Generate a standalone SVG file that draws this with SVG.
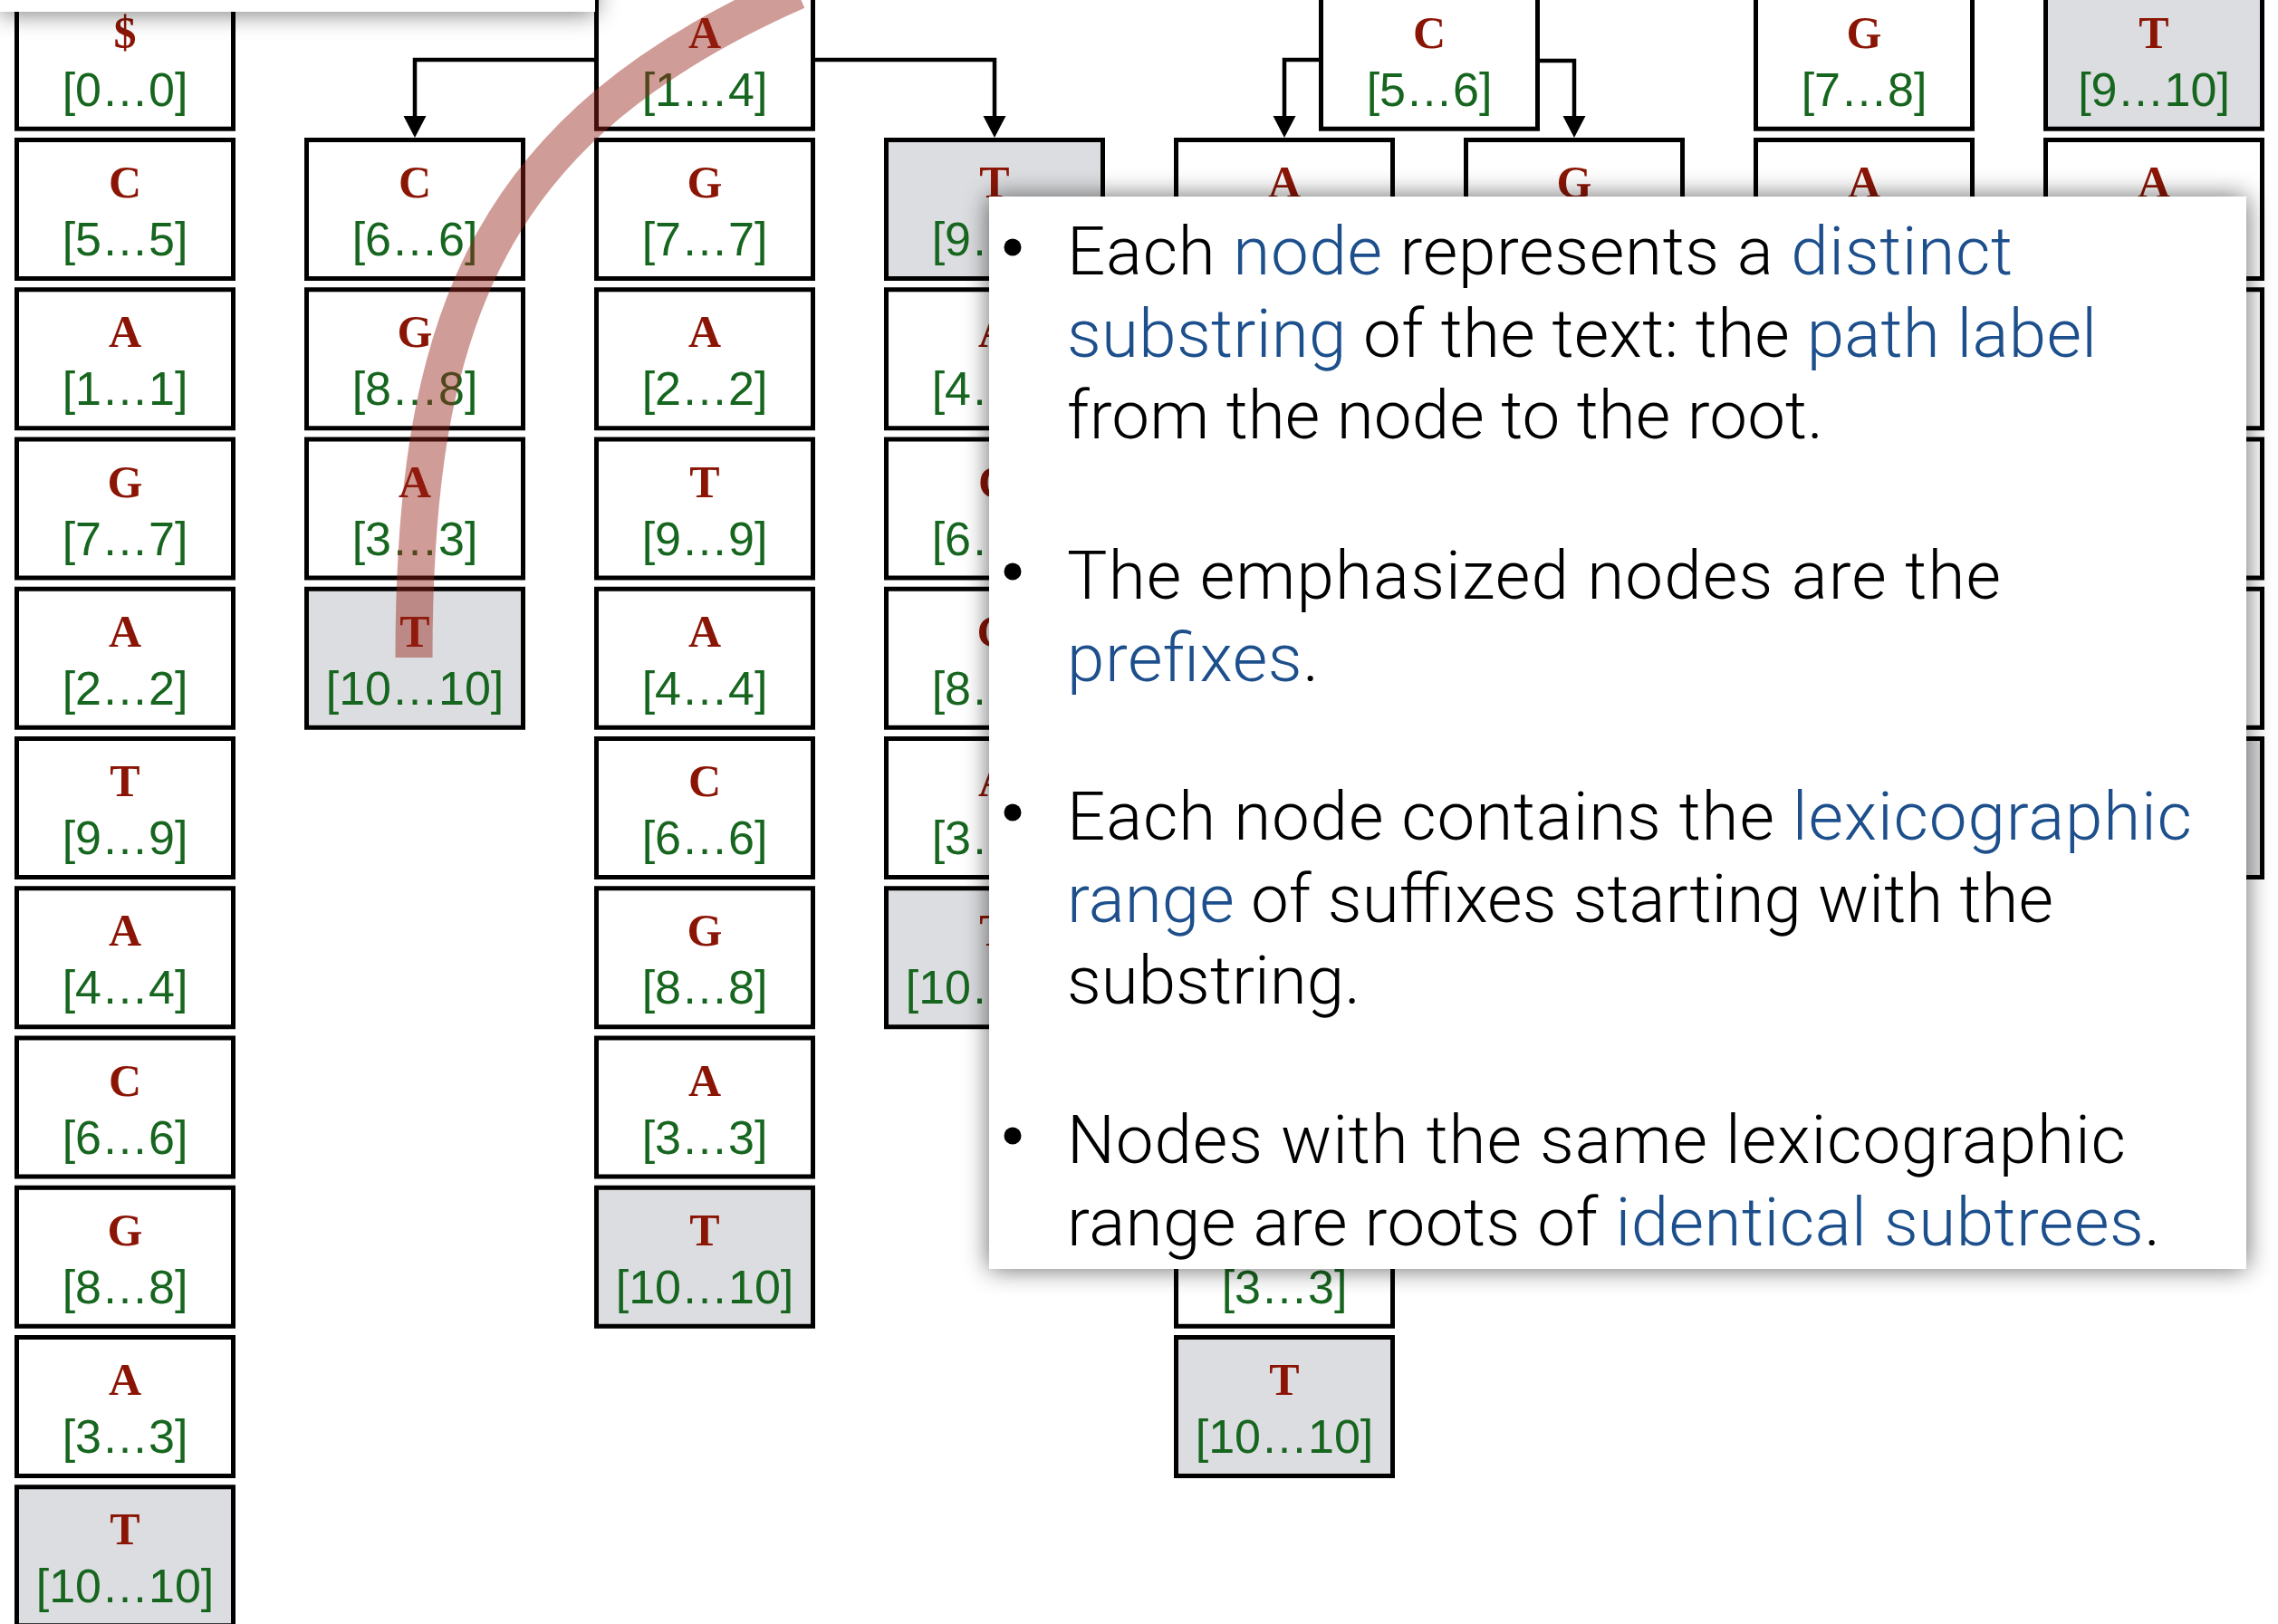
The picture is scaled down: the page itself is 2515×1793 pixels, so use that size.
<svg xmlns="http://www.w3.org/2000/svg" width="2515" height="1793" viewBox="0 0 2515 1793">
  <defs>
    <style>
      .box { fill: #ffffff; stroke: #000000; stroke-width: 5; }
      .pre { fill: #dcdde0; }
      .ch { font-family: "Liberation Serif", "DejaVu Serif", serif; font-weight: bold; font-size: 50px; fill: #8b1505; text-anchor: middle; }
      .rg { font-family: "Liberation Sans", Arial, sans-serif; font-size: 52px; fill: #17661f; text-anchor: middle; }
      .edge { fill: none; stroke: #000000; stroke-width: 4.5; marker-end: url(#arrow); }
      .arc { fill: none; stroke: rgb(150,35,25); stroke-opacity: 0.45; stroke-width: 41; }
      .panel { fill: #ffffff; filter: url(#shadow); }
      .tx { font-family: Roboto, "Liberation Sans", sans-serif; font-weight: 300; font-size: 74.5px; fill: #000000; }
      .hl { fill: #1c4f8c; }
      .dot { fill: #000000; }
    </style>
    <marker id="arrow" markerUnits="userSpaceOnUse" markerWidth="26" markerHeight="26" refX="12" refY="12.5" orient="auto">
      <path d="M0,0 L24,12.5 L0,25 Z" fill="#000000"/>
    </marker>
    <filter id="shadow" filterUnits="userSpaceOnUse" x="-100" y="-100" width="2715" height="1993">
      <feGaussianBlur in="SourceAlpha" stdDeviation="14"/>
      <feComponentTransfer><feFuncA type="linear" slope="0.6"/></feComponentTransfer>
      <feMerge><feMergeNode/><feMergeNode in="SourceGraphic"/></feMerge>
    </filter>
  </defs>

  <rect x="0" y="0" width="2515" height="1793" fill="#ffffff"/>

  <!-- column 1: $ chain -->
  <g id="c1r0" transform="translate(18.5,-10.75)"><rect class="box" width="239" height="153"/><text class="ch" x="119.5" y="63.5">$</text><text class="rg" x="119.5" y="127.5">[0…0]</text></g>
  <g id="c1r1" transform="translate(18.5,154.5)"><rect class="box" width="239" height="153"/><text class="ch" x="119.5" y="63.5">C</text><text class="rg" x="119.5" y="127.5">[5…5]</text></g>
  <g id="c1r2" transform="translate(18.5,319.75)"><rect class="box" width="239" height="153"/><text class="ch" x="119.5" y="63.5">A</text><text class="rg" x="119.5" y="127.5">[1…1]</text></g>
  <g id="c1r3" transform="translate(18.5,485)"><rect class="box" width="239" height="153"/><text class="ch" x="119.5" y="63.5">G</text><text class="rg" x="119.5" y="127.5">[7…7]</text></g>
  <g id="c1r4" transform="translate(18.5,650.25)"><rect class="box" width="239" height="153"/><text class="ch" x="119.5" y="63.5">A</text><text class="rg" x="119.5" y="127.5">[2…2]</text></g>
  <g id="c1r5" transform="translate(18.5,815.5)"><rect class="box" width="239" height="153"/><text class="ch" x="119.5" y="63.5">T</text><text class="rg" x="119.5" y="127.5">[9…9]</text></g>
  <g id="c1r6" transform="translate(18.5,980.75)"><rect class="box" width="239" height="153"/><text class="ch" x="119.5" y="63.5">A</text><text class="rg" x="119.5" y="127.5">[4…4]</text></g>
  <g id="c1r7" transform="translate(18.5,1146)"><rect class="box" width="239" height="153"/><text class="ch" x="119.5" y="63.5">C</text><text class="rg" x="119.5" y="127.5">[6…6]</text></g>
  <g id="c1r8" transform="translate(18.5,1311.25)"><rect class="box" width="239" height="153"/><text class="ch" x="119.5" y="63.5">G</text><text class="rg" x="119.5" y="127.5">[8…8]</text></g>
  <g id="c1r9" transform="translate(18.5,1476.5)"><rect class="box" width="239" height="153"/><text class="ch" x="119.5" y="63.5">A</text><text class="rg" x="119.5" y="127.5">[3…3]</text></g>
  <g id="c1r10" transform="translate(18.5,1641.75)"><rect class="box pre" width="239" height="153"/><text class="ch" x="119.5" y="63.5">T</text><text class="rg" x="119.5" y="127.5">[10…10]</text></g>

  <!-- column 2 -->
  <g id="c2r1" transform="translate(338.5,154.5)"><rect class="box" width="239" height="153"/><text class="ch" x="119.5" y="63.5">C</text><text class="rg" x="119.5" y="127.5">[6…6]</text></g>
  <g id="c2r2" transform="translate(338.5,319.75)"><rect class="box" width="239" height="153"/><text class="ch" x="119.5" y="63.5">G</text><text class="rg" x="119.5" y="127.5">[8…8]</text></g>
  <g id="c2r3" transform="translate(338.5,485)"><rect class="box" width="239" height="153"/><text class="ch" x="119.5" y="63.5">A</text><text class="rg" x="119.5" y="127.5">[3…3]</text></g>
  <g id="c2r4" transform="translate(338.5,650.25)"><rect class="box pre" width="239" height="153"/><text class="ch" x="119.5" y="63.5">T</text><text class="rg" x="119.5" y="127.5">[10…10]</text></g>

  <!-- column 3: A subtree -->
  <g id="c3r0" transform="translate(658.5,-10.75)"><rect class="box" width="239" height="153"/><text class="ch" x="119.5" y="63.5">A</text><text class="rg" x="119.5" y="127.5">[1…4]</text></g>
  <g id="c3r1" transform="translate(658.5,154.5)"><rect class="box" width="239" height="153"/><text class="ch" x="119.5" y="63.5">G</text><text class="rg" x="119.5" y="127.5">[7…7]</text></g>
  <g id="c3r2" transform="translate(658.5,319.75)"><rect class="box" width="239" height="153"/><text class="ch" x="119.5" y="63.5">A</text><text class="rg" x="119.5" y="127.5">[2…2]</text></g>
  <g id="c3r3" transform="translate(658.5,485)"><rect class="box" width="239" height="153"/><text class="ch" x="119.5" y="63.5">T</text><text class="rg" x="119.5" y="127.5">[9…9]</text></g>
  <g id="c3r4" transform="translate(658.5,650.25)"><rect class="box" width="239" height="153"/><text class="ch" x="119.5" y="63.5">A</text><text class="rg" x="119.5" y="127.5">[4…4]</text></g>
  <g id="c3r5" transform="translate(658.5,815.5)"><rect class="box" width="239" height="153"/><text class="ch" x="119.5" y="63.5">C</text><text class="rg" x="119.5" y="127.5">[6…6]</text></g>
  <g id="c3r6" transform="translate(658.5,980.75)"><rect class="box" width="239" height="153"/><text class="ch" x="119.5" y="63.5">G</text><text class="rg" x="119.5" y="127.5">[8…8]</text></g>
  <g id="c3r7" transform="translate(658.5,1146)"><rect class="box" width="239" height="153"/><text class="ch" x="119.5" y="63.5">A</text><text class="rg" x="119.5" y="127.5">[3…3]</text></g>
  <g id="c3r8" transform="translate(658.5,1311.25)"><rect class="box pre" width="239" height="153"/><text class="ch" x="119.5" y="63.5">T</text><text class="rg" x="119.5" y="127.5">[10…10]</text></g>

  <!-- column 4 -->
  <g id="c4r1" transform="translate(978.5,154.5)"><rect class="box pre" width="239" height="153"/><text class="ch" x="119.5" y="63.5">T</text><text class="rg" x="119.5" y="127.5">[9…9]</text></g>
  <g id="c4r2" transform="translate(978.5,319.75)"><rect class="box" width="239" height="153"/><text class="ch" x="119.5" y="63.5">A</text><text class="rg" x="119.5" y="127.5">[4…4]</text></g>
  <g id="c4r3" transform="translate(978.5,485)"><rect class="box" width="239" height="153"/><text class="ch" x="119.5" y="63.5">C</text><text class="rg" x="119.5" y="127.5">[6…6]</text></g>
  <g id="c4r4" transform="translate(978.5,650.25)"><rect class="box" width="239" height="153"/><text class="ch" x="119.5" y="63.5">G</text><text class="rg" x="119.5" y="127.5">[8…8]</text></g>
  <g id="c4r5" transform="translate(978.5,815.5)"><rect class="box" width="239" height="153"/><text class="ch" x="119.5" y="63.5">A</text><text class="rg" x="119.5" y="127.5">[3…3]</text></g>
  <g id="c4r6" transform="translate(978.5,980.75)"><rect class="box pre" width="239" height="153"/><text class="ch" x="119.5" y="63.5">T</text><text class="rg" x="119.5" y="127.5">[10…10]</text></g>

  <!-- C subtree -->
  <g id="c56r0" transform="translate(1458.5,-10.75)"><rect class="box" width="239" height="153"/><text class="ch" x="119.5" y="63.5">C</text><text class="rg" x="119.5" y="127.5">[5…6]</text></g>
  <g id="c5r1" transform="translate(1298.5,154.5)"><rect class="box" width="239" height="153"/><text class="ch" x="119.5" y="63.5">A</text></g>
  <g id="c5r8" transform="translate(1298.5,1311.25)"><rect class="box" width="239" height="153"/><text class="rg" x="119.5" y="127.5">[3…3]</text></g>
  <g id="c5r9" transform="translate(1298.5,1476.5)"><rect class="box pre" width="239" height="153"/><text class="ch" x="119.5" y="63.5">T</text><text class="rg" x="119.5" y="127.5">[10…10]</text></g>
  <g id="c6r1" transform="translate(1618.5,154.5)"><rect class="box" width="239" height="153"/><text class="ch" x="119.5" y="63.5">G</text></g>

  <!-- G subtree -->
  <g id="c7r0" transform="translate(1938.5,-10.75)"><rect class="box" width="239" height="153"/><text class="ch" x="119.5" y="63.5">G</text><text class="rg" x="119.5" y="127.5">[7…8]</text></g>
  <g id="c7r1" transform="translate(1938.5,154.5)"><rect class="box" width="239" height="153"/><text class="ch" x="119.5" y="63.5">A</text></g>

  <!-- T subtree -->
  <g id="c8r0" transform="translate(2258.5,-10.75)"><rect class="box pre" width="239" height="153"/><text class="ch" x="119.5" y="63.5">T</text><text class="rg" x="119.5" y="127.5">[9…10]</text></g>
  <g id="c8r1" transform="translate(2258.5,154.5)"><rect class="box" width="239" height="153"/><text class="ch" x="119.5" y="63.5">A</text></g>
  <g id="c8r2" transform="translate(2258.5,319.75)"><rect class="box" width="239" height="153"/></g>
  <g id="c8r3" transform="translate(2258.5,485)"><rect class="box" width="239" height="153"/></g>
  <g id="c8r4" transform="translate(2258.5,650.25)"><rect class="box" width="239" height="153"/></g>
  <g id="c8r5" transform="translate(2258.5,815.5)"><rect class="box pre" width="239" height="153"/></g>

  <!-- branching connectors -->
  <g id="connectors">
    <path class="edge" d="M658,66 H458 V140"/>
    <path class="edge" d="M898,66 H1098 V140"/>
    <path class="edge" d="M1459,66 H1418 V140"/>
    <path class="edge" d="M1697,67 H1738 V140"/>
  </g>

  <!-- highlighted path -->
  <path id="path-highlight" class="arc" d="M457,726 C457,350 540,140 880,-10"/>

  <!-- callout panels -->
  <rect id="panel-top" class="panel" x="0" y="-20" width="657" height="33"/>
  <g id="panel-notes">
    <rect class="panel" x="1092" y="217" width="1388" height="1184"/>
    <circle class="dot" cx="1118" cy="273" r="9.5"/>
    <circle class="dot" cx="1118" cy="631" r="9.5"/>
    <circle class="dot" cx="1118" cy="897" r="9.5"/>
    <circle class="dot" cx="1118" cy="1254" r="9.5"/>
    <text class="tx" x="1178" y="303" textLength="1044">Each <tspan class="hl">node</tspan> represents a <tspan class="hl">distinct</tspan></text>
    <text class="tx" x="1178" y="393.5" textLength="1137"><tspan class="hl">substring</tspan> of the text: the <tspan class="hl">path label</tspan></text>
    <text class="tx" x="1178" y="484" textLength="835">from the node to the root.</text>
    <text class="tx" x="1178" y="661" textLength="1031">The emphasized nodes are the</text>
    <text class="tx" x="1178" y="751.5" textLength="278"><tspan class="hl">prefixes</tspan>.</text>
    <text class="tx" x="1178" y="927" textLength="1242">Each node contains the <tspan class="hl">lexicographic</tspan></text>
    <text class="tx" x="1178" y="1017.5" textLength="1089"><tspan class="hl">range</tspan> of suffixes starting with the</text>
    <text class="tx" x="1178" y="1108" textLength="324">substring.</text>
    <text class="tx" x="1178" y="1284" textLength="1169">Nodes with the same lexicographic</text>
    <text class="tx" x="1178" y="1374.5" textLength="1207">range are roots of <tspan class="hl">identical subtrees</tspan>.</text>
  </g>
</svg>
